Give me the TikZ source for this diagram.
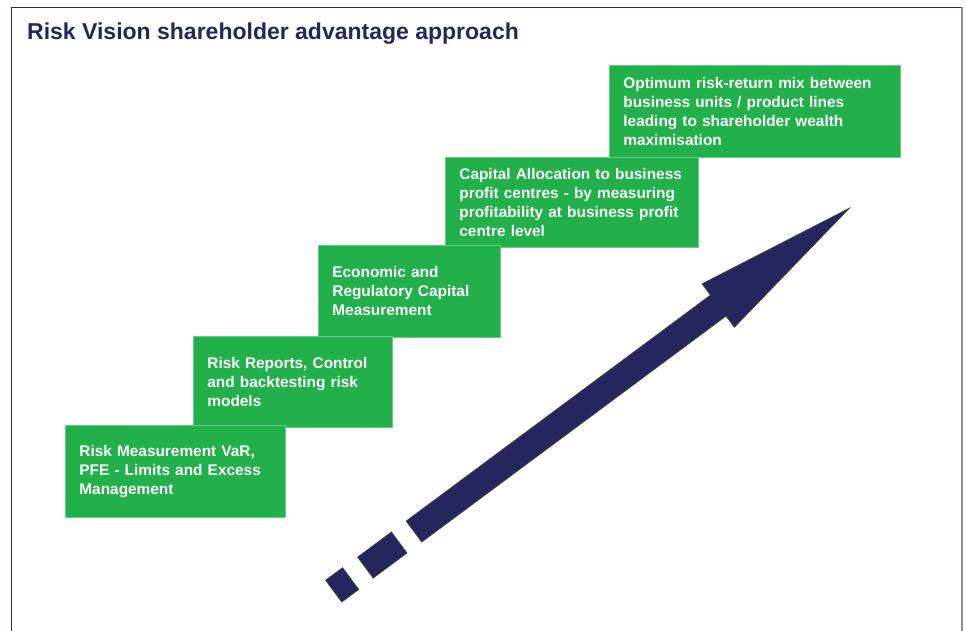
\documentclass[tikz,border=0pt]{standalone}
\usepackage{fontspec}
\setmainfont{Liberation Sans}

\definecolor{navy}{HTML}{25265E}
\definecolor{stepgreen}{HTML}{22B04B}
\definecolor{stepedge}{HTML}{66CC88}
\definecolor{rimgray}{HTML}{8C8CB0}

\tikzset{
  stepbox/.style={draw=stepedge, line width=0.8pt, fill=stepgreen, text=white,
    font=\fontsize{15.4}{19}\selectfont\bfseries, align=left,
    anchor=north west, inner xsep=14pt, inner ysep=0pt},
  arrowpart/.style={fill=navy, draw=black!75, line width=0.8pt, line join=miter}
}

\begin{document}
\begin{tikzpicture}[x=1pt, y=-1pt]
\useasboundingbox (0,0) rectangle (966,631);

% Frame
\draw[navy, line width=1.5pt] (11.5,631) -- (11.5,7.5) -- (962,7.5);
\draw[rimgray, line width=2pt] (962,7.5) -- (962,631);

% Title
\node[anchor=base west, inner sep=0pt, text=navy, font=\fontsize{23}{27}\selectfont\bfseries] (title) at (27,39.5) {Risk Vision shareholder advantage approach};

% Steps, top one first so the lower ones sit on top
\node[stepbox, text width=263pt, minimum height=92pt] (optimum) at (609,65) {Optimum risk-return mix between\\business units / product lines\\leading to shareholder wealth\\maximisation};
\node[stepbox, text width=225pt, minimum height=90pt] (allocation) at (445,157) {Capital Allocation to business\\profit centres - by measuring\\profitability at business profit\\centre level};
\node[stepbox, text width=154pt, minimum height=92pt] (capital) at (318,245) {Economic and\\Regulatory Capital\\Measurement};
\node[stepbox, text width=171pt, minimum height=91pt] (reports) at (193,336) {Risk Reports, Control\\and backtesting risk\\models};
\node[stepbox, text width=192pt, minimum height=92pt] (measure) at (65,425) {Risk Measurement VaR,\\PFE - Limits and Excess\\Management};

% Rising arrow with its broken tail
\begin{scope}[shift={(414,531.5)}, rotate=36.6]
\draw[arrowpart] (0,-13) -- (379,-13) -- (379,-27) -- (542,0) -- (379,27) -- (379,13) -- (0,13) -- cycle;
\draw[arrowpart] (-60.5,-13) rectangle (-18.5,13);
\draw[arrowpart] (-100,-13.5) rectangle (-79,13.5);
\end{scope}
\end{tikzpicture}
\end{document}
